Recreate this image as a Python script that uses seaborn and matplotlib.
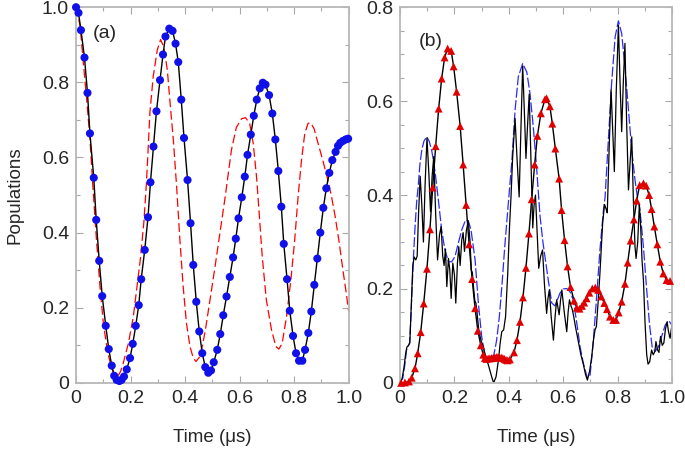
import matplotlib
matplotlib.use("Agg")
import matplotlib.pyplot as plt
import seaborn as sns
from matplotlib.ticker import MultipleLocator, FuncFormatter

# ---- panel (a): blue dots (exact), red dashed (approx.) ----
t_dots = [0.000, 0.009, 0.018, 0.031, 0.042, 0.051, 0.065, 0.074, 0.085, 0.096,
          0.109, 0.120, 0.131, 0.140, 0.149, 0.159, 0.167, 0.176, 0.186, 0.198,
          0.208, 0.219, 0.230, 0.239, 0.252, 0.264, 0.273, 0.284, 0.295, 0.308,
          0.319, 0.328, 0.342, 0.354, 0.365, 0.375, 0.386, 0.396, 0.409, 0.420,
          0.430, 0.441, 0.452, 0.463, 0.474, 0.485, 0.495, 0.505, 0.518, 0.529,
          0.540, 0.552, 0.564, 0.576, 0.586, 0.596, 0.608, 0.619, 0.629, 0.641,
          0.652, 0.663, 0.674, 0.685, 0.695, 0.708, 0.720, 0.731, 0.742, 0.753,
          0.762, 0.774, 0.784, 0.796, 0.807, 0.818, 0.830, 0.840, 0.852, 0.863,
          0.874, 0.885, 0.896, 0.907, 0.918, 0.929, 0.940, 0.952, 0.961, 0.969,
          0.979, 0.989, 0.998]
p_dots = [1.000, 0.985, 0.939, 0.866, 0.772, 0.664, 0.546, 0.434, 0.325, 0.231,
          0.152, 0.090, 0.046, 0.019, 0.008, 0.005, 0.008, 0.017, 0.036, 0.066,
          0.104, 0.152, 0.207, 0.276, 0.354, 0.441, 0.534, 0.629, 0.723, 0.806,
          0.874, 0.922, 0.943, 0.937, 0.903, 0.854, 0.754, 0.652, 0.540, 0.425,
          0.314, 0.216, 0.137, 0.079, 0.042, 0.027, 0.033, 0.055, 0.088, 0.130,
          0.180, 0.230, 0.282, 0.334, 0.384, 0.438, 0.494, 0.549, 0.607, 0.661,
          0.711, 0.754, 0.784, 0.799, 0.794, 0.766, 0.717, 0.648, 0.564, 0.469,
          0.370, 0.276, 0.192, 0.125, 0.079, 0.059, 0.059, 0.088, 0.133, 0.190,
          0.261, 0.331, 0.400, 0.466, 0.518, 0.559, 0.593, 0.615, 0.631, 0.639,
          0.644, 0.648, 0.650]

t_red = [0.000, 0.015, 0.027, 0.039, 0.051, 0.062, 0.075, 0.088, 0.100, 0.115,
         0.130, 0.143, 0.153, 0.163, 0.173, 0.192, 0.210, 0.222, 0.237, 0.249,
         0.258, 0.265, 0.271, 0.283, 0.298, 0.310, 0.322, 0.335, 0.344, 0.357,
         0.369, 0.381, 0.393, 0.405, 0.418, 0.430, 0.440, 0.452, 0.464, 0.476,
         0.488, 0.500, 0.512, 0.525, 0.536, 0.548, 0.558, 0.570, 0.588, 0.607,
         0.622, 0.637, 0.650, 0.662, 0.670, 0.683, 0.698, 0.717, 0.733, 0.744,
         0.756, 0.772, 0.788, 0.802, 0.815, 0.827, 0.839, 0.851, 0.861, 0.873,
         0.888, 0.906, 0.922, 0.936, 0.950, 0.965, 0.979, 0.991, 1.000]
p_red = [1.000, 0.950, 0.850, 0.755, 0.650, 0.520, 0.380, 0.255, 0.160, 0.085,
         0.040, 0.020, 0.017, 0.030, 0.052, 0.105, 0.176, 0.247, 0.336, 0.430,
         0.530, 0.630, 0.720, 0.815, 0.886, 0.914, 0.894, 0.832, 0.753, 0.646,
         0.522, 0.380, 0.256, 0.159, 0.097, 0.066, 0.057, 0.068, 0.100, 0.148,
         0.205, 0.262, 0.320, 0.385, 0.440, 0.500, 0.555, 0.620, 0.680, 0.703,
         0.706, 0.690, 0.637, 0.549, 0.470, 0.336, 0.221, 0.141, 0.097, 0.090,
         0.105, 0.176, 0.274, 0.380, 0.500, 0.593, 0.664, 0.691, 0.692, 0.677,
         0.637, 0.590, 0.545, 0.500, 0.445, 0.375, 0.300, 0.240, 0.190]

# ---- panel (b): red triangles, blue dashed envelope, black oscillation ----
t_tri = [0.004, 0.018, 0.033, 0.043, 0.055, 0.065, 0.076, 0.087, 0.099, 0.110,
         0.120, 0.131, 0.142, 0.153, 0.164, 0.175, 0.188, 0.197, 0.208, 0.221,
         0.232, 0.243, 0.254, 0.265, 0.276, 0.286, 0.297, 0.306, 0.312, 0.318,
         0.324, 0.330, 0.336, 0.342, 0.348, 0.354, 0.360, 0.366, 0.372, 0.378,
         0.384, 0.390, 0.396, 0.404, 0.419, 0.430, 0.441, 0.452, 0.463, 0.474,
         0.484, 0.495, 0.505, 0.518, 0.533, 0.539, 0.551, 0.560, 0.571, 0.585,
         0.594, 0.605, 0.616, 0.627, 0.640, 0.650, 0.660, 0.669, 0.677, 0.686,
         0.696, 0.707, 0.718, 0.729, 0.740, 0.751, 0.761, 0.772, 0.784, 0.794,
         0.804, 0.815, 0.827, 0.837, 0.848, 0.860, 0.870, 0.881, 0.895, 0.905,
         0.916, 0.925, 0.935, 0.946, 0.957, 0.968, 0.980, 0.993]
p_tri = [0.000, 0.001, 0.003, 0.011, 0.031, 0.063, 0.108, 0.169, 0.243, 0.327,
         0.416, 0.504, 0.584, 0.648, 0.693, 0.712, 0.707, 0.674, 0.620, 0.547,
         0.465, 0.379, 0.295, 0.221, 0.159, 0.111, 0.080, 0.060, 0.053, 0.051,
         0.052, 0.052, 0.053, 0.053, 0.054, 0.055, 0.055, 0.054, 0.054, 0.053,
         0.051, 0.049, 0.048, 0.050, 0.065, 0.091, 0.130, 0.182, 0.245, 0.318,
         0.391, 0.465, 0.526, 0.574, 0.604, 0.606, 0.589, 0.552, 0.499, 0.435,
         0.368, 0.304, 0.248, 0.204, 0.175, 0.160, 0.158, 0.164, 0.171, 0.180,
         0.192, 0.201, 0.203, 0.198, 0.184, 0.170, 0.157, 0.141, 0.134, 0.134,
         0.150, 0.173, 0.211, 0.256, 0.303, 0.348, 0.388, 0.421, 0.425, 0.420,
         0.400, 0.370, 0.333, 0.295, 0.258, 0.233, 0.219, 0.217]

t_env = [0.000, 0.010, 0.018, 0.024, 0.030, 0.035, 0.040, 0.045, 0.050, 0.055,
         0.061, 0.067, 0.073, 0.080, 0.088, 0.098, 0.107, 0.116, 0.124, 0.131,
         0.141, 0.153, 0.165, 0.178, 0.190, 0.202, 0.214, 0.227, 0.241, 0.251,
         0.261, 0.276, 0.288, 0.300, 0.313, 0.325, 0.335, 0.345, 0.355, 0.365,
         0.375, 0.385, 0.395, 0.405, 0.411, 0.423, 0.435, 0.451, 0.466, 0.478,
         0.490, 0.502, 0.508, 0.515, 0.526, 0.545, 0.558, 0.570, 0.588, 0.600,
         0.613, 0.625, 0.637, 0.650, 0.662, 0.674, 0.689, 0.699, 0.711, 0.723,
         0.735, 0.748, 0.754, 0.766, 0.778, 0.791, 0.803, 0.815, 0.827, 0.840,
         0.852, 0.864, 0.873, 0.882, 0.895, 0.907, 0.917, 0.927, 0.938, 0.950,
         0.962, 0.975, 0.987, 1.000]
p_env = [0.000, 0.010, 0.040, 0.070, 0.078, 0.085, 0.140, 0.210, 0.275, 0.330,
         0.385, 0.420, 0.465, 0.496, 0.515, 0.524, 0.515, 0.496, 0.470, 0.439,
         0.389, 0.326, 0.283, 0.258, 0.258, 0.269, 0.297, 0.326, 0.347, 0.345,
         0.326, 0.262, 0.170, 0.099, 0.056, 0.045, 0.048, 0.060, 0.090, 0.140,
         0.210, 0.290, 0.360, 0.430, 0.470, 0.581, 0.652, 0.680, 0.662, 0.616,
         0.545, 0.460, 0.410, 0.354, 0.297, 0.219, 0.170, 0.164, 0.191, 0.200,
         0.201, 0.194, 0.177, 0.127, 0.077, 0.042, 0.010, 0.017, 0.091, 0.184,
         0.283, 0.368, 0.396, 0.517, 0.638, 0.737, 0.771, 0.744, 0.673, 0.581,
         0.496, 0.432, 0.395, 0.370, 0.290, 0.198, 0.127, 0.077, 0.067, 0.077,
         0.099, 0.123, 0.133, 0.123]

t_osc = [0.000, 0.008, 0.015, 0.020, 0.025, 0.031, 0.036, 0.041, 0.047, 0.052,
         0.058, 0.063, 0.068, 0.074, 0.080, 0.086, 0.092, 0.099, 0.106, 0.112,
         0.118, 0.124, 0.131, 0.138, 0.145, 0.151, 0.157, 0.162, 0.167, 0.172,
         0.178, 0.183, 0.188, 0.194, 0.200, 0.205, 0.211, 0.216, 0.221, 0.227,
         0.232, 0.237, 0.244, 0.251, 0.257, 0.262, 0.266, 0.270, 0.275, 0.279,
         0.283, 0.290, 0.298, 0.306, 0.315, 0.325, 0.337, 0.344, 0.353, 0.362,
         0.368, 0.374, 0.381, 0.388, 0.396, 0.402, 0.408, 0.414, 0.423, 0.430,
         0.438, 0.444, 0.451, 0.457, 0.463, 0.469, 0.475, 0.481, 0.488, 0.493,
         0.498, 0.504, 0.510, 0.517, 0.524, 0.531, 0.539, 0.544, 0.549, 0.556,
         0.564, 0.570, 0.576, 0.581, 0.585, 0.590, 0.595, 0.604, 0.613, 0.618,
         0.623, 0.628, 0.634, 0.639, 0.645, 0.655, 0.665, 0.674, 0.682, 0.689,
         0.697, 0.705, 0.711, 0.717, 0.722, 0.729, 0.735, 0.745, 0.752, 0.758,
         0.762, 0.769, 0.776, 0.782, 0.788, 0.795, 0.803, 0.809, 0.815, 0.821,
         0.827, 0.833, 0.840, 0.846, 0.852, 0.858, 0.864, 0.868, 0.874, 0.880,
         0.885, 0.890, 0.895, 0.901, 0.907, 0.912, 0.918, 0.925, 0.931, 0.937,
         0.941, 0.947, 0.952, 0.958, 0.964, 0.970, 0.976, 0.982, 0.987, 0.993,
         1.000]
p_osc = [0.000, 0.010, 0.035, 0.060, 0.076, 0.080, 0.085, 0.160, 0.250, 0.268,
         0.262, 0.270, 0.360, 0.440, 0.380, 0.300, 0.420, 0.522, 0.445, 0.365,
         0.440, 0.482, 0.360, 0.262, 0.315, 0.333, 0.270, 0.250, 0.285, 0.205,
         0.265, 0.240, 0.180, 0.255, 0.230, 0.170, 0.255, 0.290, 0.250, 0.305,
         0.320, 0.280, 0.325, 0.345, 0.305, 0.240, 0.235, 0.205, 0.175, 0.170,
         0.150, 0.110, 0.090, 0.077, 0.056, 0.038, 0.013, 0.000, 0.013, 0.049,
         0.084, 0.109, 0.113, 0.141, 0.233, 0.326, 0.396, 0.480, 0.563, 0.480,
         0.396, 0.530, 0.675, 0.580, 0.478, 0.550, 0.615, 0.480, 0.330, 0.380,
         0.400, 0.320, 0.244, 0.270, 0.283, 0.210, 0.148, 0.180, 0.198, 0.140,
         0.091, 0.140, 0.177, 0.160, 0.145, 0.175, 0.198, 0.150, 0.109, 0.150,
         0.177, 0.165, 0.155, 0.140, 0.120, 0.090, 0.060, 0.040, 0.018, 0.006,
         0.025, 0.056, 0.090, 0.113, 0.120, 0.177, 0.233, 0.340, 0.380, 0.370,
         0.362, 0.500, 0.625, 0.540, 0.450, 0.620, 0.762, 0.640, 0.535, 0.640,
         0.723, 0.560, 0.411, 0.470, 0.524, 0.390, 0.290, 0.265, 0.300, 0.380,
         0.330, 0.260, 0.219, 0.127, 0.060, 0.040, 0.045, 0.070, 0.060, 0.067,
         0.088, 0.070, 0.065, 0.099, 0.080, 0.085, 0.115, 0.130, 0.110, 0.095,
         0.125]

sns.set_style("ticks")
plt.rcParams['font.family'] = ['Liberation Sans', 'DejaVu Sans']

fig = plt.figure(figsize=(6.85, 4.51), dpi=100)
ax1 = fig.add_axes([0.111, 0.151, 0.398, 0.833])
ax2 = fig.add_axes([0.584, 0.151, 0.397, 0.833])

# panel (a)
sns.lineplot(x=t_red, y=p_red, ax=ax1, color='red', lw=0.9,
             linestyle=(0, (7, 3)), sort=False, estimator=None)
sns.lineplot(x=t_dots, y=p_dots, ax=ax1, color='black', lw=1.0,
             sort=False, estimator=None)
sns.scatterplot(x=t_dots, y=p_dots, ax=ax1, color='#1010e8', s=34,
                edgecolor='none', zorder=3, clip_on=False)

# panel (b)
sns.lineplot(x=t_env, y=p_env, ax=ax2, color='#2a2aff', lw=0.9,
             linestyle=(0, (8, 2)), sort=False, estimator=None)
sns.lineplot(x=t_osc, y=p_osc, ax=ax2, color='black', lw=0.9,
             sort=False, estimator=None)
sns.lineplot(x=t_tri, y=p_tri, ax=ax2, color='black', lw=1.0,
             sort=False, estimator=None)
sns.scatterplot(x=t_tri, y=p_tri, ax=ax2, color='#e00000', marker='^', s=32,
                edgecolor='none', zorder=3, clip_on=False)

fmt = FuncFormatter(lambda v, pos: '0' if abs(v) < 1e-9 else f'{v:.1f}')

for ax, ytop, yminor in [(ax1, 1.0, 0.1), (ax2, 0.8, 0.05)]:
    ax.set_xlim(0, 1)
    ax.set_ylim(0, ytop)
    ax.xaxis.set_major_locator(MultipleLocator(0.2))
    ax.xaxis.set_minor_locator(MultipleLocator(0.1))
    ax.yaxis.set_major_locator(MultipleLocator(0.2))
    ax.yaxis.set_minor_locator(MultipleLocator(yminor))
    ax.xaxis.set_major_formatter(fmt)
    ax.yaxis.set_major_formatter(fmt)
    ax.tick_params(which='both', direction='in', top=True, right=True,
                   color='#a8a8a8', width=0.8, labelsize=14, pad=5)
    ax.tick_params(which='major', length=5)
    ax.tick_params(which='minor', length=3)
    for s in ax.spines.values():
        s.set_color('#b8b8b8')
        s.set_linewidth(1.3)
    ax.set_xlabel('Time (μs)', fontsize=13.5, labelpad=16)
    ax.set_ylabel('')

ax1.set_ylabel('Populations', fontsize=13.5, labelpad=13)
ax1.text(0.06, 0.93, '(a)', transform=ax1.transAxes, fontsize=14, va='center')
ax2.text(0.07, 0.91, '(b)', transform=ax2.transAxes, fontsize=14, va='center')

fig.savefig('out.png', dpi=100)
